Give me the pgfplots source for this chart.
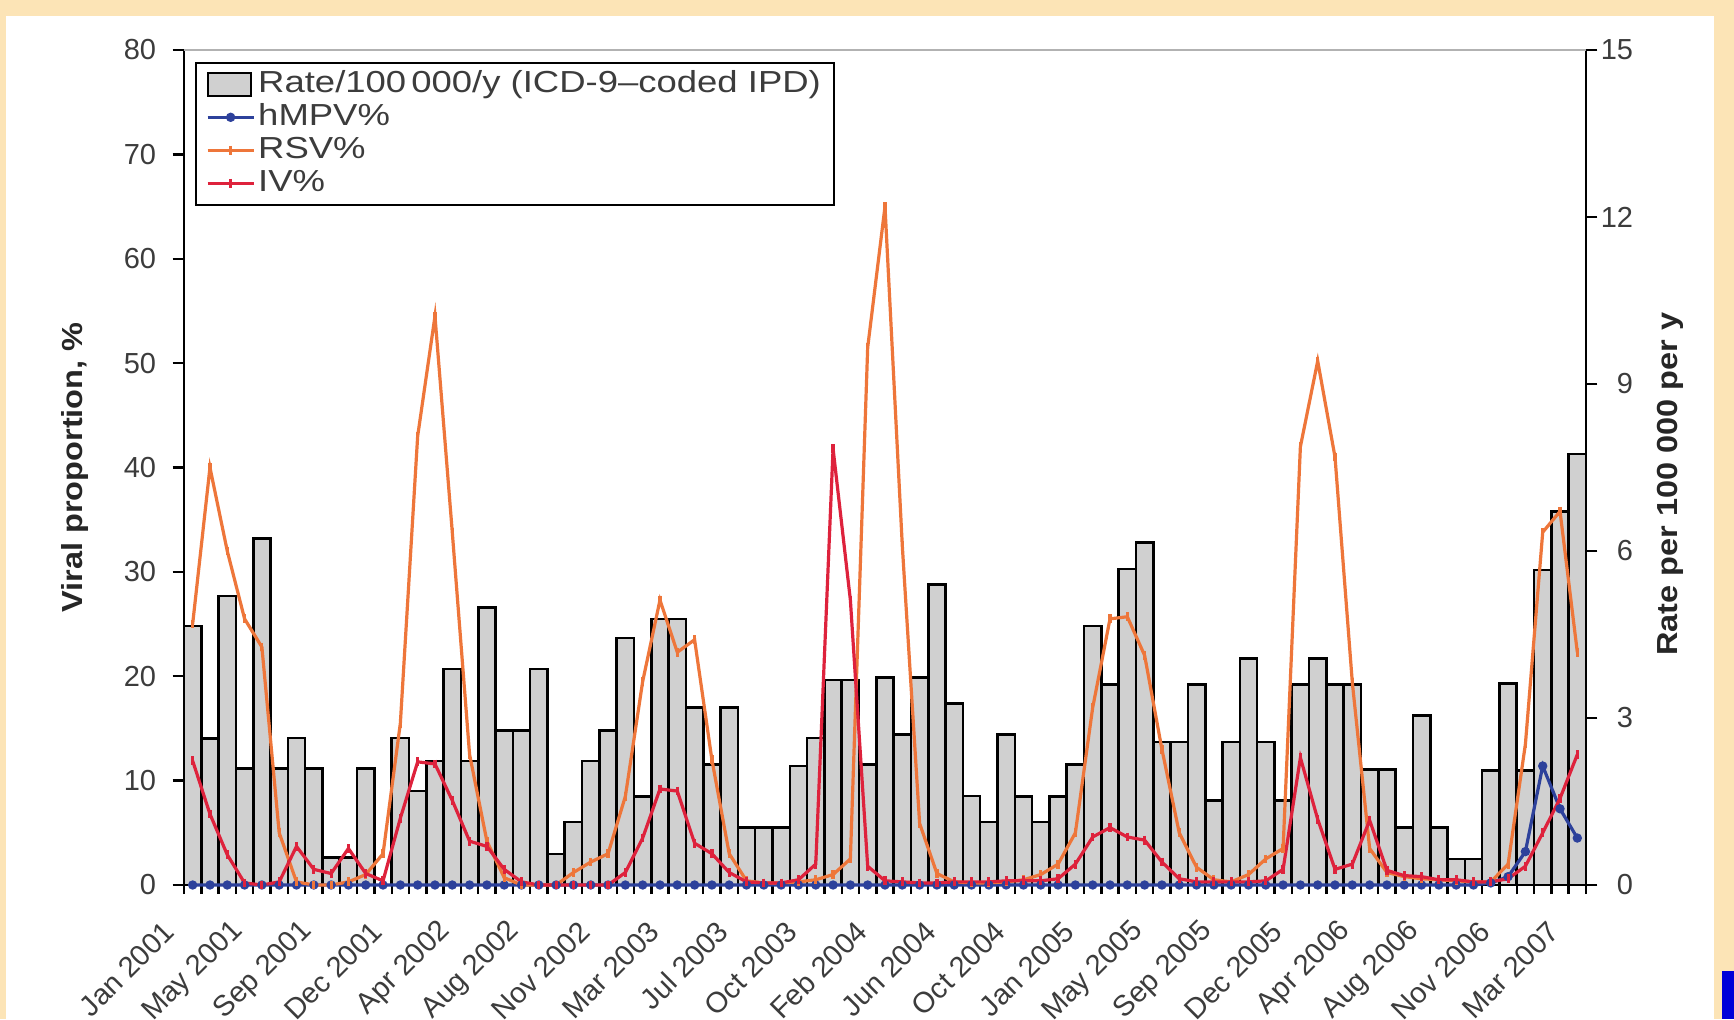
\documentclass[border=0pt]{standalone}
\usepackage{pgfplots}
\usepackage{pgfplotstable}
\pgfplotsset{compat=1.18}
\usepackage{fontspec}
\setmainfont{Liberation Sans}
\newfontfamily\legendfont{Liberation Sans}[FakeStretch=1.2]
\newfontfamily\axislabelfont{Liberation Sans}[FakeStretch=1.12]

\definecolor{framebg}{RGB}{252,228,182}
\definecolor{barfill}{RGB}{208,208,208}
\definecolor{rsvcol}{RGB}{238,118,58}
\definecolor{ivcol}{RGB}{222,34,60}
\definecolor{hmpvcol}{RGB}{45,65,155}
\definecolor{labelgray}{RGB}{60,60,60}

% k = four-week period since Jan 2001; rate on the right axis, viral shares on the left
\pgfplotstableread{
k rate hmpv rsv iv
1 4.65 0 25 11.9
2 2.63 0 40 6.8
3 5.19 0 32 2.9
4 2.09 0 25.5 0.2
5 6.23 0 22.8 0
6 2.09 0 5 0.3
7 2.64 0 0.3 3.7
8 2.09 0 0 1.5
9 0.49 0 0 1.1
10 0.49 0 0.3 3.5
11 2.09 0 1 1.1
12 0 0 3 0.4
13 2.64 0 15.5 6.4
14 1.69 0 43 11.8
15 2.23 0 54.5 11.6
16 3.88 0 33.8 8.1
17 2.23 0 12.5 4.2
18 4.99 0 4.2 3.7
19 2.78 0 0.7 1.5
20 2.78 0 0 0.3
21 3.88 0 0 0
22 0.56 0 0 0
23 1.13 0 1.2 0
24 2.23 0 2.2 0
25 2.78 0 3 0
26 4.44 0 8.5 1.2
27 1.59 0 19.5 4.5
28 4.78 0 27.3 9.2
29 4.78 0 22.3 9.0
30 3.19 0 23.5 4
31 2.16 0 12 3
32 3.19 0 3 1.2
33 1.03 0 0.4 0.3
34 1.03 0 0.2 0.2
35 1.03 0 0.2 0.2
36 2.14 0 0.3 0.5
37 2.64 0 0.5 2
38 3.68 0 1 41.8
39 3.68 0 2.5 27.3
40 2.16 0 51.5 1.8
41 3.73 0 65 0.4
42 2.70 0 32.5 0.3
43 3.73 0 5.9 0.2
44 5.40 0 1.1 0.2
45 3.26 0 0.3 0.3
46 1.60 0 0.2 0.3
47 1.13 0 0.2 0.3
48 2.70 0 0.3 0.4
49 1.59 0 0.5 0.4
50 1.13 0 1 0.4
51 1.59 0 2 0.6
52 2.16 0 5 2
53 4.65 0 17 4.6
54 3.60 0 25.5 5.5
55 5.68 0 25.7 4.6
56 6.15 0 22 4.3
57 2.57 0 13 2.2
58 2.57 0 5 0.6
59 3.60 0 1.7 0.3
60 1.52 0 0.5 0.3
61 2.57 0 0.3 0.3
62 4.07 0 1 0.3
63 2.57 0 2.5 0.4
64 1.52 0 3.5 1.5
65 3.60 0 42 12.2
66 4.07 0 50.2 6.3
67 3.60 0 41 1.5
68 3.60 0 19.4 2
69 2.08 0 3.5 6.2
70 2.08 0 1.2 1.4
71 1.03 0 0.8 0.9
72 3.04 0 0.6 0.8
73 1.03 0 0.5 0.5
74 0.47 0 0.4 0.5
75 0.47 0 0.3 0.3
76 2.06 0.2 0.3 0.3
77 3.62 0.8 2 0.6
78 2.06 3.2 13.5 1.8
79 5.66 11.4 33.8 5
80 6.71 7.3 35.8 8.3
81 7.74 4.5 22.3 12.5
}\ipdtable

\newcommand{\tickfont}{\fontsize{14.5pt}{16pt}\selectfont}
\newcommand{\titlefont}{\axislabelfont\bfseries\fontsize{14.5pt}{16pt}\selectfont}

\pgfplotsset{
  common/.style={
    at={(92pt,67pt)}, anchor=south west,
    scale only axis, width=701pt, height=417.5pt,
    xmin=0.5, xmax=81.5,
    axis line style={line width=1.3pt, black, -},
    tick style={line width=1.2pt, black},
    tick align=outside,
    major tick length=5.75pt, minor tick length=4.5pt,
    /pgf/number format/assume math mode=true,
    ticklabel style={font=\tickfont, text=labelgray},
  },
  wide line legend/.style={
    legend image code/.code={\draw[mark repeat=2, mark phase=2, ##1]
      plot coordinates {(0pt,0pt) (11.5pt,0pt) (23pt,0pt)};}},
}

\begin{document}
\begin{tikzpicture}
\fill[framebg] (0,0) rectangle (867pt,509.5pt);
\fill[white] (3pt,0) rectangle (857pt,501.5pt);
\fill[blue!85!black] (861pt,0) rectangle (867pt,24pt);

% bars: rate of coded IPD on the right-hand scale
\begin{axis}[common,
  ymin=0, ymax=15,
  axis x line*=bottom, axis y line*=right,
  xtick={1,5,...,81},
  xticklabels={Jan 2001, May 2001, Sep 2001, Dec 2001, Apr 2002, Aug 2002,
    Nov 2002, Mar 2003, Jul 2003, Oct 2003, Feb 2004, Jun 2004, Oct 2004,
    Jan 2005, May 2005, Sep 2005, Dec 2005, Apr 2006, Aug 2006, Nov 2006,
    Mar 2007},
  major x tick style={draw=none},
  minor xtick={0.5,1.5,...,81.5},
  xticklabel style={xshift=-11.6pt, yshift=-15pt, rotate=45, anchor=east, inner sep=0pt},
  ytick={0,3,...,15},
  yticklabel style={anchor=east, inner sep=0pt, xshift=18pt},
  ylabel={Rate per 100 000 per y},
  ylabel style={font=\titlefont, text=black!85, at={(axis description cs:1.06,0.48)}, anchor=center},
]
\addplot[ybar, bar width=1, fill=barfill, draw=black, line width=1.3pt]
  table[x=k, y=rate] {\ipdtable};
\end{axis}

% viral proportions on the left-hand scale
\begin{axis}[common,
  ymin=0, ymax=80,
  axis x line=none, axis y line*=left,
  clip=false,
  ytick={0,10,...,80},
  yticklabel style={anchor=east, inner sep=0pt, xshift=-8pt},
  ylabel={Viral proportion, \%},
  ylabel style={font=\titlefont, text=black!85, at={(axis description cs:-0.0777,0.5)}, anchor=center},
  legend cell align=left,
  legend style={at={(axis description cs:0.0078,0.986)}, anchor=north west,
    draw=black, line width=1.1pt, fill=white,
    font=\legendfont\fontsize{15.2pt}{17pt}\selectfont, text=labelgray,
    inner xsep=5pt, inner ysep=2pt, row sep=-1pt,
    nodes={inner sep=1.5pt, text height=11.5pt, text depth=3pt}},
]
\draw[black!30, line width=0.8pt] (rel axis cs:0,1) -- (rel axis cs:1,1);
\addlegendimage{legend image code/.code={\draw[black, fill=barfill, line width=1.1pt] (0pt,-5.75pt) rectangle (21.5pt,5.75pt);}}
\addlegendentry{Rate/100\,000/y (ICD-9–coded IPD)}
\addplot[hmpvcol, line width=1.6pt, mark=*, mark size=1.5pt, wide line legend]
  table[x=k, y=hmpv] {\ipdtable};
\addlegendentry{hMPV\%}
\addplot[rsvcol, line width=1.6pt, mark=|, mark size=2.2pt, wide line legend]
  table[x=k, y=rsv] {\ipdtable};
\addlegendentry{RSV\%}
\addplot[ivcol, line width=1.6pt, mark=|, mark size=2.2pt, wide line legend]
  table[x=k, y=iv] {\ipdtable};
\addlegendentry{IV\%}
\end{axis}

\pgfresetboundingbox
\useasboundingbox (0,0) rectangle (867pt,509.5pt);
\end{tikzpicture}
\end{document}
